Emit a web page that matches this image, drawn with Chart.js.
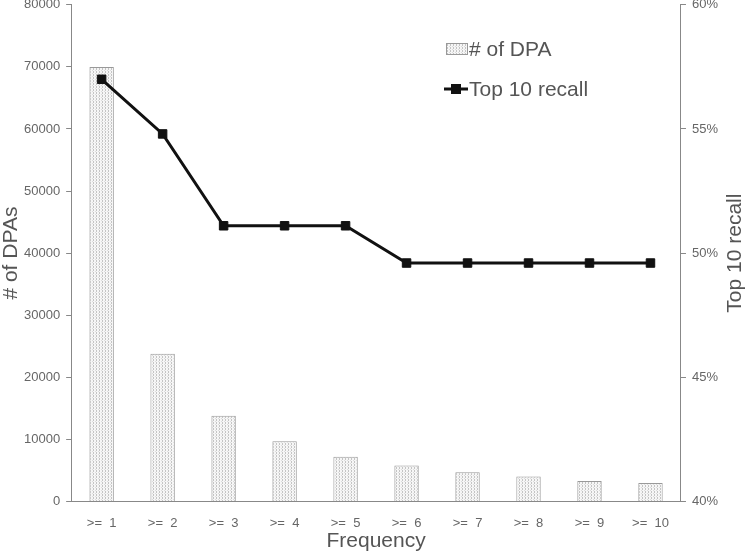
<!DOCTYPE html>
<html>
<head>
<meta charset="utf-8">
<script src="https://cdn.jsdelivr.net/npm/chart.js@4"></script>
<style>
  html, body { margin: 0; padding: 0; background: #fff; overflow: hidden; }
  #wrap { width: 747px; height: 554px; overflow: hidden; }
  /* canvas is a bit taller and pulled up so the top tick label gets clipped like the original */
  #chart { display: block; margin-top: -9px; }
</style>
</head>
<body>
<div id="wrap"><canvas id="chart" width="747" height="563"></canvas></div>
<script>
const categories = ['>=  1', '>=  2', '>=  3', '>=  4', '>=  5', '>=  6', '>=  7', '>=  8', '>=  9', '>=  10'];
const dpaCounts = [70000, 23800, 13800, 9700, 7200, 5800, 4700, 4000, 3300, 2950];
const recall = [57.0, 54.8, 51.1, 51.1, 51.1, 49.6, 49.6, 49.6, 49.6, 49.6];

const FONT = 'Liberation Sans, Arial, Helvetica, sans-serif';
const GREY = '#666';
const SHIFT = 9;

// dotted fill like the original bars
function dotPattern() {
    const c = document.createElement('canvas');
    c.width = 3; c.height = 3;
    const g = c.getContext('2d');
    g.fillStyle = '#f6f6f6';
    g.fillRect(0, 0, 3, 3);
    g.fillStyle = '#c4c4c4';
    g.fillRect(0, 0, 1, 1);
    g.fillRect(0, 2, 1, 1);
    g.fillStyle = '#dcdcdc';
    g.fillRect(2, 1, 1, 1);
    return g.createPattern(c, 'repeat');
}

// legend inside the plot + axis titles (both y titles read bottom to top)
const extras = {
    id: 'extras',
    afterDraw(chart) {
        const ctx = chart.ctx;
        const area = chart.chartArea;
        const x = 446, y1 = 49 + SHIFT, y2 = 89 + SHIFT;
        ctx.save();
        ctx.fillStyle = dotPattern();
        ctx.fillRect(x, y1 - 5, 22, 11);
        ctx.strokeStyle = '#999';
        ctx.lineWidth = 1;
        ctx.strokeRect(x + 0.5, y1 - 5.5, 21, 11);
        ctx.strokeStyle = '#111';
        ctx.lineWidth = 3;
        ctx.beginPath();
        ctx.moveTo(x - 2, y2);
        ctx.lineTo(x + 22, y2);
        ctx.stroke();
        ctx.fillStyle = '#111';
        ctx.fillRect(x + 5, y2 - 5, 10, 10);
        ctx.fillStyle = '#555';
        ctx.font = '21px ' + FONT;
        ctx.textBaseline = 'middle';
        ctx.fillText('# of DPA', x + 23, y1 + 1);
        ctx.fillText('Top 10 recall', x + 23, y2 + 1);

        ctx.textAlign = 'center';
        const midY = (area.top + area.bottom) / 2;
        ctx.fillText('Frequency', (area.left + area.right) / 2, 541 + SHIFT);
        ctx.save();
        ctx.translate(11, midY);
        ctx.rotate(-Math.PI / 2);
        ctx.fillText('# of DPAs', 0, 0);
        ctx.restore();
        ctx.save();
        ctx.translate(735, midY);
        ctx.rotate(-Math.PI / 2);
        ctx.fillText('Top 10 recall', 0, 0);
        ctx.restore();
        ctx.restore();
    }
};

new Chart(document.getElementById('chart'), {
    data: {
        labels: categories,
        datasets: [{
            type: 'line',
            label: 'Top 10 recall',
            data: recall,
            yAxisID: 'yRight',
            borderColor: '#111',
            borderWidth: 3,
            pointStyle: 'rect',
            pointRadius: 6,
            pointBackgroundColor: '#111',
            pointBorderColor: '#111',
            pointBorderWidth: 1,
            tension: 0,
            order: 0
        }, {
            type: 'bar',
            label: '# of DPA',
            data: dpaCounts,
            yAxisID: 'y',
            backgroundColor: dotPattern(),
            borderColor: '#999',
            borderWidth: 1,
            categoryPercentage: 0.4,
            barPercentage: 1,
            order: 1
        }]
    },
    options: {
        responsive: false,
        animation: false,
        layout: { padding: { top: 0, right: 23, left: 18, bottom: 9 } },
        plugins: {
            legend: { display: false },
            tooltip: { enabled: false }
        },
        scales: {
            x: {
                grid: { display: false, drawTicks: false },
                border: { color: '#888' },
                ticks: { color: GREY, font: { family: FONT, size: 13 }, padding: 14 }
            },
            y: {
                position: 'left',
                min: 0,
                max: 80000,
                ticks: {
                    stepSize: 10000, color: GREY, font: { family: FONT, size: 13 }, padding: 6,
                    callback: v => String(v)
                },
                grid: { drawOnChartArea: false, tickLength: 5, color: '#888' },
                border: { color: '#888' }
            },
            yRight: {
                position: 'right',
                min: 40,
                max: 60,
                ticks: {
                    stepSize: 5, color: GREY, font: { family: FONT, size: 13 }, padding: 6,
                    callback: v => v + '%'
                },
                grid: { drawOnChartArea: false, tickLength: 5, color: '#888' },
                border: { color: '#888' }
            }
        }
    },
    plugins: [extras]
});
</script>
</body>
</html>
